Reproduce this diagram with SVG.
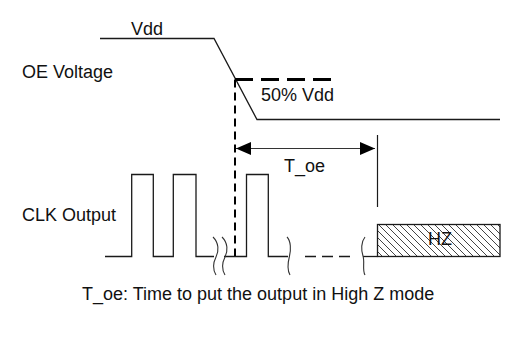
<svg xmlns="http://www.w3.org/2000/svg" width="507" height="349" viewBox="0 0 507 349">
<style>
.t{font-family:"Liberation Sans",Arial,sans-serif;font-size:18px;fill:#111}
.ln{fill:none;stroke:#1a1a1a;stroke-width:1.3}
.brk{fill:none;stroke:#333;stroke-width:1.1}
</style>
<defs>
<pattern id="hatch" patternUnits="userSpaceOnUse" width="7" height="7">
<path d="M-1,-1 L8,8 M-1,6 L1,8 M6,-1 L8,1" stroke="#444" stroke-width="1"/>
</pattern>
<marker id="ah" viewBox="0 0 15 13" refX="15" refY="6.5" markerWidth="15" markerHeight="13" markerUnits="userSpaceOnUse" orient="auto-start-reverse">
<path d="M0,0 L15,6.5 L0,13 Z" fill="#000"/>
</marker>
</defs>
<rect width="507" height="349" fill="#fff"/>
<g id="labels">
<text class="t" x="131" y="35">Vdd</text>
<text class="t" x="22" y="78">OE Voltage</text>
<text class="t" x="22" y="221">CLK Output</text>
<text class="t" x="261" y="101">50% Vdd</text>
<text class="t" x="284" y="172">T_oe</text>
<text class="t" x="82" y="300">T_oe: Time to put the output in High Z mode</text>
</g>
<g id="oe-voltage">
<path class="ln" d="M100,38.5 L214,38.5 L257,119.5 L500,119.5"/>
</g>
<g id="clk-output">
<path class="ln" d="M105,256.5 L131.7,256.5 L131.7,174.5 L153.3,174.5 L153.3,256.5 L173.3,256.5 L173.3,174.5 L196,174.5 L196,256.5 L214,256.5"/>
<path class="ln" d="M224,256.5 L246.5,256.5 L246.5,174.5 L268.3,174.5 L268.3,256.5 L288,256.5"/>
<path class="ln" d="M305,256.5 L350,256.5" stroke-dasharray="11,6"/>
<path class="ln" d="M363,256.5 L377.5,256.5"/>
</g>
<g id="breaks">
<path class="brk" d="M213,237 C219,243 219,251 216,257 C213,263 213,270 216,275"/>
<path class="brk" d="M222,237 C228,243 228,251 225,257 C222,263 222,270 225,275"/>
<path class="brk" d="M287,237 C291,241 291,250 289.5,256 C288,262 287,270 290,275"/>
<path class="brk" d="M365,237 C361,242 361,250 363,256 C365,262 362,270 365,275"/>
</g>
<g id="hz">
<rect x="377.5" y="224.5" width="122.5" height="32" fill="url(#hatch)" stroke="#1a1a1a" stroke-width="1.3"/>
<text class="t" x="440" y="245" text-anchor="middle">HZ</text>
</g>
<g id="connectors">
<path d="M235,79.5 L332,79.5" fill="none" stroke="#000" stroke-width="3" stroke-dasharray="18,8"/>
<path d="M235,79.5 L235,256" fill="none" stroke="#000" stroke-width="2" stroke-dasharray="8,5"/>
<path d="M377.5,135 L377.5,207" fill="none" stroke="#1a1a1a" stroke-width="1.2"/>
<path d="M236,148.5 L375,148.5" fill="none" stroke="#333" stroke-width="1.2" marker-start="url(#ah)" marker-end="url(#ah)"/>
</g>
</svg>
